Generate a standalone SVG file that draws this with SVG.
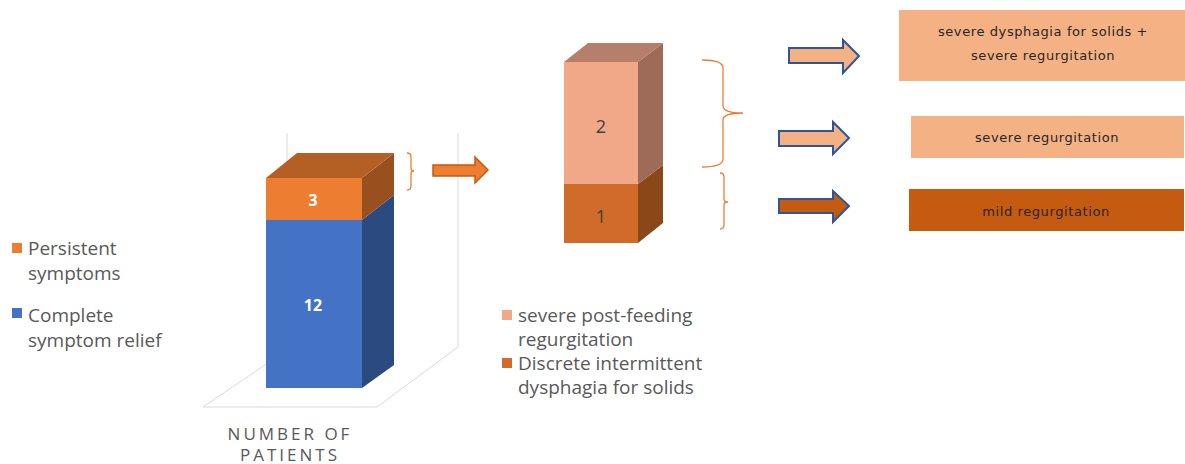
<svg xmlns="http://www.w3.org/2000/svg" width="1185" height="464" viewBox="0 0 1185 464">
<style>
.leg{font-family:"Open Sans","Liberation Sans",sans-serif;font-size:19px;fill:#595959}
.axis{font-family:"Open Sans","Liberation Sans",sans-serif;font-size:17px;fill:#595959;letter-spacing:3px}
.box{font-family:"DejaVu Sans",sans-serif;font-size:13px;fill:#262626;letter-spacing:0.6px}
.brace{fill:none;stroke:#ED7D31;stroke-width:1.3}
.grid{fill:none;stroke:#D9D9D9;stroke-width:1}
.val{font-family:"Open Sans","Liberation Sans",sans-serif;font-size:16px;font-weight:bold;fill:#FFFFFF;text-anchor:middle}
.val2{font-family:"Open Sans","Liberation Sans",sans-serif;font-size:18px;fill:#404040;text-anchor:middle}
.barrow{stroke:#2F5597;stroke-width:2;stroke-linejoin:miter}
</style>
<rect width="1185" height="464" fill="#FFFFFF"/>
<g id="chart1-frame">
<path class="grid" d="M287 133 V350 M458 133 V347 M287 350 L203 407 H377 L458 347"/>
</g>
<g id="bar1">
<polygon points="362,220 394,195 394,365 362,388" fill="#2A4A80"/>
<rect x="266" y="220" width="96" height="168" fill="#4472C4"/>
<polygon points="362,178 394,153 394,195 362,220" fill="#9A4F1E"/>
<rect x="266" y="178" width="96" height="42" fill="#ED7D31"/>
<polygon points="266,178 297,153 394,153 362,178" fill="#B45F24"/>
<text class="val" x="313" y="206">3</text>
<text class="val" x="313" y="311">12</text>
</g>
<g id="axis-label">
<text class="axis" x="290" y="440" text-anchor="middle">NUMBER OF</text>
<text class="axis" x="290" y="461" text-anchor="middle">PATIENTS</text>
</g>
<g id="legend1">
<rect x="12" y="243" width="10" height="10" fill="#ED7D31"/>
<text class="leg" x="28" y="255">Persistent</text>
<text class="leg" x="28" y="280">symptoms</text>
<rect x="12" y="308" width="10" height="10" fill="#4472C4"/>
<text class="leg" x="28" y="322">Complete</text>
<text class="leg" x="28" y="347">symptom relief</text>
</g>
<g id="bar2">
<polygon points="638,184 663,165 663,223 638,243" fill="#8A4818"/>
<rect x="564" y="184" width="74" height="59" fill="#D06B29"/>
<polygon points="638,62 663,43 663,165 638,184" fill="#9E6B58"/>
<rect x="564" y="62" width="74" height="122" fill="#F0A889"/>
<polygon points="564,62 588,43 663,43 638,62" fill="#B57F6B"/>
<text class="val2" x="601" y="133">2</text>
<text class="val2" x="601" y="223">1</text>
</g>
<g id="legend2">
<rect x="502" y="310" width="10" height="10" fill="#F0A889"/>
<text class="leg" x="518" y="322">severe post-feeding</text>
<text class="leg" x="518" y="346">regurgitation</text>
<rect x="502" y="358" width="10" height="10" fill="#D06B29"/>
<text class="leg" x="518" y="370">Discrete intermittent</text>
<text class="leg" x="518" y="394">dysphagia for solids</text>
</g>
<g id="box1">
<rect x="899" y="10" width="286" height="71" fill="#F4B183"/>
<text class="box" x="1043" y="36" text-anchor="middle">severe dysphagia for solids +</text>
<text class="box" x="1043" y="60" text-anchor="middle">severe regurgitation</text>
</g>
<g id="box2">
<rect x="911" y="116" width="273" height="42" fill="#F4B183"/>
<text class="box" x="1047" y="142" text-anchor="middle">severe regurgitation</text>
</g>
<g id="box3">
<rect x="909" y="189" width="275" height="42" fill="#C55A11"/>
<text class="box" x="1046" y="216" text-anchor="middle">mild regurgitation</text>
</g>
<g id="connectors">
<path class="brace" d="M407 153 Q411 153 411 157 V168 Q411 171 414 171 Q411 171 411 174 V186 Q411 190 407 190"/>
<path d="M433 165 H475 V157 L488 170 L475 183 V176 H433 Z" fill="#ED7D31" stroke="#C55A11" stroke-width="1.5"/>
<path class="brace" d="M702 60 Q723 60 723 68 V106 Q723 113 743 113 Q723 113 723 120 V159 Q723 167 702 167"/>
<path class="brace" d="M720 173 Q724 173 724 177 V199 Q724 202 728 202 Q724 202 724 205 V225 Q724 229 720 229"/>
<path class="barrow" d="M789 48 H843 V40 L859 56 L843 73 V63 H789 Z" fill="#F4B183"/>
<path class="barrow" d="M779 131 H833 V122 L849 138 L833 154 V146 H779 Z" fill="#F4B183"/>
<path class="barrow" d="M779 199 H833 V191 L849 206 L833 222 V213 H779 Z" fill="#C55A11"/>
</g>
</svg>
